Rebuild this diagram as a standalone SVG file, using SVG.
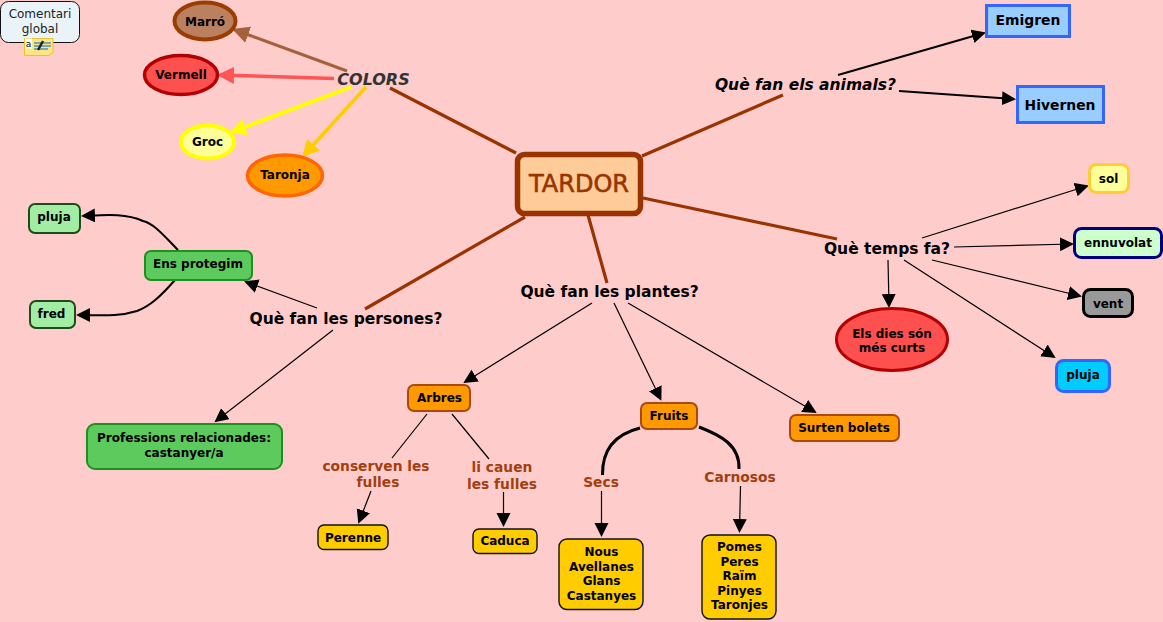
<svg xmlns="http://www.w3.org/2000/svg" width="1163" height="622" viewBox="0 0 1163 622">
<style>
text{font-family:"DejaVu Sans",Verdana,sans-serif;font-weight:bold;text-anchor:middle;fill:#000}
.n{font-size:12px}
.h{font-size:15.500px}
.i{font-style:italic}
.r{font-size:13.800px;fill:#a23f10}
.t{fill:none;stroke:#000;stroke-width:1.2}
.m{fill:none;stroke:#000;stroke-width:2}
.b{fill:none;stroke:#993300;stroke-width:3.2}
.g{fill:#5dca5d;stroke:#1f8f1f;stroke-width:2}
.lg{fill:#a3eca3;stroke:#1a4d1a;stroke-width:2}
.o{fill:#ff9900;stroke:#a84a10;stroke-width:2}
.y{fill:#ffcc00;stroke:#111;stroke-width:1.4}
.bl{fill:#99ccff;stroke:#3366ff;stroke-width:3}
.t,.m{marker-end:url(#a)}
</style>
<defs>
<marker id="a" markerUnits="userSpaceOnUse" markerWidth="15" markerHeight="15" refX="12" refY="7" orient="auto"><path d="M0 0L14 7L0 14z" fill="#000"/></marker>
<marker id="mb" markerUnits="userSpaceOnUse" markerWidth="18" markerHeight="18" refX="14" refY="8.500" orient="auto"><path d="M0 0L17 8.500L0 17z" fill="#a5603c"/></marker>
<marker id="mr" markerUnits="userSpaceOnUse" markerWidth="18" markerHeight="18" refX="14" refY="8.500" orient="auto"><path d="M0 0L17 8.500L0 17z" fill="#ff5555"/></marker>
<marker id="my" markerUnits="userSpaceOnUse" markerWidth="18" markerHeight="18" refX="14" refY="8.500" orient="auto"><path d="M0 0L17 8.500L0 17z" fill="#ffff00"/></marker>
<marker id="mo" markerUnits="userSpaceOnUse" markerWidth="18" markerHeight="18" refX="14" refY="8.500" orient="auto"><path d="M0 0L17 8.500L0 17z" fill="#ffcc00"/></marker>
</defs>
<rect width="1163" height="622" fill="#ffcccc"/>
<g id="connectors">
<path class="b" d="M390 88L516 153M642 156L783 95M643 198L837 239M588 215L607 283M525 217L365 309"/>
<path d="M347 71L235 30" fill="none" stroke="#a5603c" stroke-width="3" marker-end="url(#mb)"/>
<path d="M334 78.500L220 75" fill="none" stroke="#ff5555" stroke-width="3.500" marker-end="url(#mr)"/>
<path d="M351 87L232 132" fill="none" stroke="#ffff00" stroke-width="4" marker-end="url(#my)"/>
<path d="M366 87L304 155" fill="none" stroke="#ffcc00" stroke-width="3.500" marker-end="url(#mo)"/>
<path class="m" d="M838 75L984 33"/>
<path class="m" d="M899 91L1014 99"/>
<path class="t" d="M317 308L246 282"/>
<path class="t" d="M333 330L216 421"/>
<path class="m" d="M178 250C165 237 155 224 143 221C125 213 105 215 83 216"/>
<path class="m" d="M175 280C160 297 150 306 137 311C118 317 100 315 78 315"/>
<path class="t" d="M592 303L465 382"/>
<path class="t" d="M614 303L660.500 399"/>
<path class="t" d="M628 303L815 412"/>
<path d="M427 414L392 458M452 414L489 459" fill="none" stroke="#000" stroke-width="1.200"/>
<path class="t" d="M371 491L359 522"/>
<path class="t" d="M503.500 492L503.500 525"/>
<path d="M640 428C620 433 602 445 602.500 475" fill="none" stroke="#000" stroke-width="3"/>
<path d="M699 427C720 435 740 445 739 469" fill="none" stroke="#000" stroke-width="3"/>
<path class="t" d="M601.500 491L601.500 535"/>
<path class="t" d="M740.500 486L739.500 531"/>
<path class="t" d="M922 238L1087 186"/>
<path class="t" d="M954 247L1072 244"/>
<path class="t" d="M932 260L1080 296"/>
<path class="t" d="M904 260L1054 357"/>
<path class="t" d="M888 260L889 306"/>
</g>
<g id="comentari"><rect x="0.500" y="1.500" width="79" height="41" rx="8" fill="#eaf4f8" stroke="#111" stroke-width="1"/>
<text x="40" y="18" style="font-size:12px;font-weight:normal;fill:#222">Comentari</text><text x="40" y="33" style="font-size:12px;font-weight:normal;fill:#222">global</text>
<path d="M24.500 38.500H53V52L49 55.500H24.500z" fill="#ffe680" stroke="#e8c030"/><rect x="25" y="38.500" width="7" height="10" fill="#fff"/>
<text x="28.500" y="47" style="font-size:9px;font-weight:normal">a</text>
<path d="M34 43H51M34 46H51M34 49H48" stroke="#4a90d0" stroke-width="1.500"/><path d="M38 50L43 41" stroke="#222" stroke-width="2.500"/></g>
<g id="marro"><ellipse cx="205" cy="21" rx="30.500" ry="18.500" fill="#bb8060" stroke="#993d00" stroke-width="4"/><text class="n" x="205" y="26">Marró</text></g>
<g id="vermell"><ellipse cx="181" cy="75" rx="36.500" ry="19.500" fill="#ff5050" stroke="#b30000" stroke-width="3.500"/><text class="n" x="181" y="79">Vermell</text></g>
<g id="groc"><ellipse cx="207.500" cy="142" rx="26.500" ry="16.500" fill="#ffff99" stroke="#ffff00" stroke-width="4"/><text class="n" x="207.500" y="146">Groc</text></g>
<g id="taronja"><ellipse cx="285" cy="175.500" rx="37.500" ry="20.500" fill="#ff9900" stroke="#ff6600" stroke-width="3.500"/><text class="n" x="285" y="179">Taronja</text></g>
<g id="colors"><text class="i" x="373.500" y="84.500" style="font-size:16px;fill:#333">COLORS</text></g>
<g id="tardor"><rect x="517.500" y="154.500" width="123" height="59" rx="7" fill="#ffcc99" stroke="#993300" stroke-width="5.500"/><text x="579" y="192" style="font-size:24px;font-weight:normal;fill:#993300;stroke:#993300;stroke-width:.6">TARDOR</text></g>
<g id="animals"><text class="h i" x="805.500" y="90">Què fan els animals?</text></g>
<g id="emigren"><rect x="986.500" y="5.500" width="83" height="31" class="bl"/><text x="1028" y="25" style="font-size:13.900px">Emigren</text></g>
<g id="hivernen"><rect x="1017.500" y="86.500" width="86" height="36" class="bl"/><text x="1060" y="110" style="font-size:13.900px">Hivernen</text></g>
<g id="persones"><text class="h" x="346" y="324">Què fan les persones?</text></g>
<g id="ens"><rect x="145" y="251" width="107" height="29" rx="6" class="g"/><text class="n" x="198" y="268">Ens protegim</text></g>
<g id="pluja1"><rect x="29" y="204" width="51" height="29" rx="6" class="lg"/><text class="n" x="54" y="221">pluja</text></g>
<g id="fred"><rect x="30" y="301" width="45" height="27" rx="6" class="lg"/><text class="n" x="51.500" y="318">fred</text></g>
<g id="professions"><rect x="87" y="424" width="195" height="45" rx="8" class="g"/><text class="n" x="184" y="442">Professions relacionades:</text><text class="n" x="184" y="457">castanyer/a</text></g>
<g id="plantes"><text class="h" x="609.500" y="297">Què fan les plantes?</text></g>
<g id="arbres"><rect x="408" y="385" width="62" height="26" rx="6" class="o"/><text class="n" x="439.500" y="402">Arbres</text></g>
<g id="fruits"><rect x="641" y="403" width="56" height="26" rx="6" class="o"/><text class="n" x="669" y="420">Fruits</text></g>
<g id="bolets"><rect x="790" y="415" width="109" height="26" rx="6" class="o"/><text class="n" x="844" y="432">Surten bolets</text></g>
<g id="conserven"><text class="r" x="376" y="471">conserven les</text><text class="r" x="378" y="487">fulles</text></g>
<g id="cauen"><text class="r" x="502" y="472">li cauen</text><text class="r" x="502" y="489">les fulles</text></g>
<g id="secs"><text class="r" x="601" y="487">Secs</text></g>
<g id="carnosos"><text class="r" x="740" y="482">Carnosos</text></g>
<g id="perenne"><rect x="318" y="525" width="70" height="24.500" rx="6" class="y"/><text class="n" x="353" y="542">Perenne</text></g>
<g id="caduca"><rect x="473" y="529" width="64" height="24.500" rx="6" class="y"/><text class="n" x="505" y="545">Caduca</text></g>
<g id="nous"><rect x="559" y="539" width="84" height="70.500" rx="8" class="y"/><text class="n" x="601.500" y="556">Nous</text><text class="n" x="601.500" y="571">Avellanes</text><text class="n" x="601.500" y="585">Glans</text><text class="n" x="601.500" y="600">Castanyes</text></g>
<g id="pomes"><rect x="702" y="535" width="74" height="84" rx="8" class="y"/><text class="n" x="739.500" y="551">Pomes</text><text class="n" x="739.500" y="565.500">Peres</text><text class="n" x="739.500" y="580">Raïm</text><text class="n" x="739.500" y="594.500">Pinyes</text><text class="n" x="739.500" y="609">Taronjes</text></g>
<g id="temps"><text class="h" x="887" y="254">Què temps fa?</text></g>
<g id="sol"><rect x="1089.500" y="164.500" width="39" height="28" rx="7" fill="#ffff99" stroke="#ffcc33" stroke-width="3"/><text class="n" x="1108.500" y="183">sol</text></g>
<g id="ennuvolat"><rect x="1074.500" y="228.500" width="87" height="29" rx="7" fill="#ccffcc" stroke="#000080" stroke-width="3"/><text class="n" x="1118" y="247">ennuvolat</text></g>
<g id="vent"><rect x="1083.500" y="289.500" width="49" height="27" rx="7" fill="#999" stroke="#000" stroke-width="3"/><text class="n" x="1108" y="308">vent</text></g>
<g id="pluja2"><rect x="1056.500" y="360.500" width="53" height="31" rx="7" fill="#00ccff" stroke="#3366ff" stroke-width="3"/><text class="n" x="1083" y="379">pluja</text></g>
<g id="dies"><ellipse cx="892" cy="339.500" rx="55.500" ry="31" fill="#ff5050" stroke="#b30000" stroke-width="3"/><text class="n" x="892" y="338">Els dies són</text><text class="n" x="892" y="352">més curts</text></g>
</svg>
